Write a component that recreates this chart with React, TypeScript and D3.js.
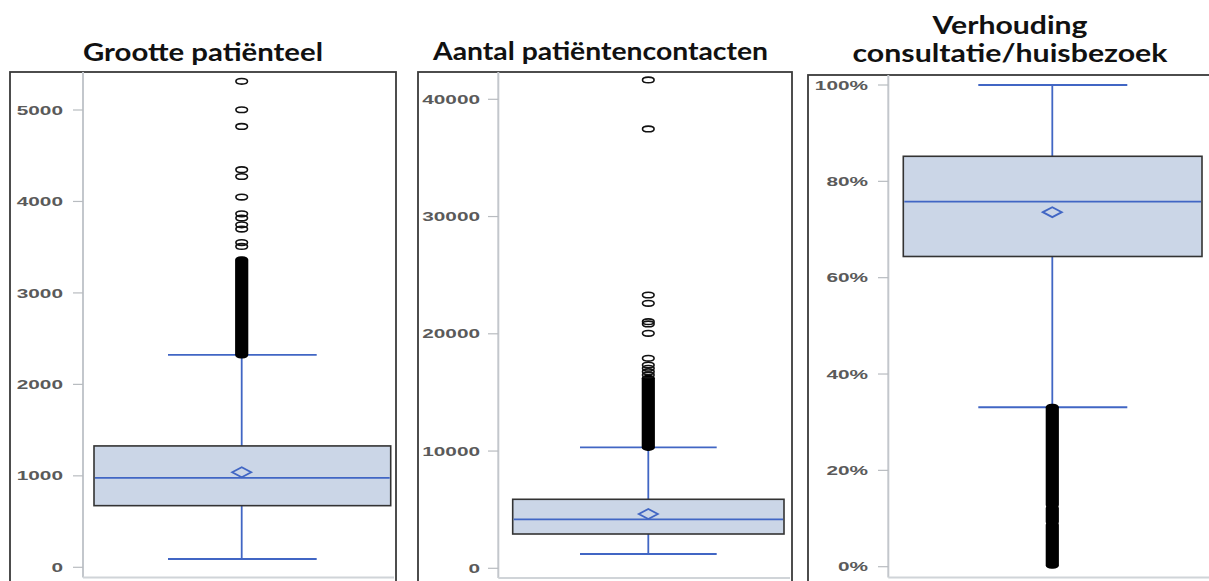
import React from "react";
import * as d3 from "d3";

// ---------- data ----------
const titles1 = ["Grootte patiënteel"];
const titles2 = ["Aantal patiëntencontacten"];
const titles3 = ["Verhouding", "consultatie/huisbezoek"];

const ticks1 = [0, 1000, 2000, 3000, 4000, 5000];
const ticks2 = [0, 10000, 20000, 30000, 40000];
const ticks3 = [0, 0.2, 0.4, 0.6, 0.8, 1.0];

// [min whisker, Q1, median, mean, Q3, max whisker]
const stats1 = [91, 674, 977, 1039, 1327, 2323];
const stats2 = [1220, 2925, 4180, 4630, 5885, 10320];
const stats3 = [0.331, 0.644, 0.758, 0.736, 0.852, 1.0];

// individual outliers
const outliers1 = [3508, 3551, 3698, 3745, 3818, 3865, 4048, 4273, 4347, 4820, 5003, 5314];
const outliers2 = [16490, 16770, 17060, 17340, 17910, 20040, 20840, 21030, 22600, 23310, 37470, 41650];
const outliers3: number[] = [];

// ranges where outlier markers overlap into a solid column
const dense1 = [[2323, 3362]];
const dense2 = [[10320, 16200]];
const dense3 = [[0.003, 0.087], [0.093, 0.122], [0.128, 0.331]];

// ---------- layout ----------
const panels = [
  {
    titles: titles1, titleX: 203, titleY: [61], titleW: [240],
    ticks: ticks1, fmt: (v: number) => String(v), stats: stats1, outliers: outliers1, dense: dense1,
    domain: [0, 5000], range: [567.3, 110],
    frame: [10, 72, 396, 640], axisX: 83, labelRight: 63, tickX0: 73,
    boxL: 94, boxR: 390.7, cx: 241.7, capL: 168, capR: 316.7, bottomY: 577.5,
  },
  {
    titles: titles2, titleX: 600.5, titleY: [60], titleW: [335],
    ticks: ticks2, fmt: (v: number) => String(v), stats: stats2, outliers: outliers2, dense: dense2,
    domain: [0, 40000], range: [568.3, 99.3],
    frame: [418, 72, 792, 640], axisX: 498.3, labelRight: 480, tickX0: 488,
    boxL: 512.7, boxR: 784, cx: 648.3, capL: 580, capR: 716.7, bottomY: 578,
  },
  {
    titles: titles3, titleX: 1010, titleY: [34, 62], titleW: [155, 315],
    ticks: ticks3, fmt: (v: number) => d3.format(".0%")(v), stats: stats3, outliers: outliers3, dense: dense3,
    domain: [0, 1], range: [566.7, 85],
    frame: [808, 75, 1230, 640], axisX: 888.3, labelRight: 868, tickX0: 878,
    boxL: 903.3, boxR: 1202, cx: 1052.3, capL: 978.3, capR: 1127.3, bottomY: 577.5,
  },
];

const BLUE = "#4166c4";
const BOXFILL = "#cbd6e7";

function Panel({ p }: { p: any }) {
  const y = d3.scaleLinear().domain(p.domain).range(p.range);
  const [mn, q1, med, mean, q3, mx] = p.stats;
  const [fx0, fy0, fx1, fy1] = p.frame;
  const rx = 5.8, ry = 2.8;
  return (
    <g>
      {p.titles.map((t: string, i: number) => (
        <text key={i} x={p.titleX} y={p.titleY[i]} textAnchor="middle"
          fontFamily="Lato, 'Open Sans', sans-serif" fontWeight="bold" fontSize={25} fill="#111"
          textLength={p.titleW[i]} lengthAdjust="spacingAndGlyphs">{t}</text>
      ))}
      <rect x={fx0} y={fy0} width={fx1 - fx0} height={fy1 - fy0} fill="#fff" stroke="#3a3a3a" strokeWidth={1.8} />
      {/* axes */}
      <line x1={p.axisX} x2={p.axisX} y1={fy0} y2={p.bottomY} stroke="#c3c7cc" strokeWidth={2} />
      <line x1={p.axisX} x2={fx1 - 2} y1={p.bottomY} y2={p.bottomY} stroke="#d0d4d8" strokeWidth={2} />
      {p.ticks.map((t: number) => (
        <g key={t}>
          <line x1={p.tickX0} x2={p.axisX} y1={y(t)} y2={y(t)} stroke="#b8bcc0" strokeWidth={1.2} />
          <g transform={`translate(${p.labelRight},${y(t) + 4.6}) scale(1.6,1)`}>
            <text x={0} y={0} textAnchor="end" fontFamily="'Liberation Sans', Arial, sans-serif"
              fontWeight="bold" fontSize={13} fill="#5a5a5a">{p.fmt(t)}</text>
          </g>
        </g>
      ))}
      {/* whiskers */}
      <line x1={p.cx} x2={p.cx} y1={y(q3)} y2={y(mx)} stroke={BLUE} strokeWidth={1.8} />
      <line x1={p.cx} x2={p.cx} y1={y(q1)} y2={y(mn)} stroke={BLUE} strokeWidth={1.8} />
      <line x1={p.capL} x2={p.capR} y1={y(mx)} y2={y(mx)} stroke={BLUE} strokeWidth={1.8} />
      <line x1={p.capL} x2={p.capR} y1={y(mn)} y2={y(mn)} stroke={BLUE} strokeWidth={1.8} />
      {/* box */}
      <rect x={p.boxL} y={y(q3)} width={p.boxR - p.boxL} height={y(q1) - y(q3)} fill={BOXFILL} stroke="#333" strokeWidth={1.6} />
      <line x1={p.boxL + 1} x2={p.boxR - 1} y1={y(med)} y2={y(med)} stroke={BLUE} strokeWidth={1.8} />
      <path d={`M${p.cx - 9.5},${y(mean)} L${p.cx},${y(mean) - 5} L${p.cx + 9.5},${y(mean)} L${p.cx},${y(mean) + 5} Z`}
        fill="none" stroke={BLUE} strokeWidth={1.8} />
      {/* dense outlier columns */}
      {p.dense.map((d: number[], i: number) => (
        <rect key={i} x={p.cx - rx - 0.8} width={2 * rx + 1.6} y={y(d[1]) - ry - 0.8}
          height={y(d[0]) - y(d[1]) + 2 * ry + 1.6} rx={rx} ry={ry + 0.8} fill="#000" />
      ))}
      {/* outliers */}
      {p.outliers.map((v: number, i: number) => (
        <ellipse key={i} cx={p.cx} cy={y(v)} rx={rx} ry={ry} fill="none" stroke="#111" strokeWidth={1.6} />
      ))}
    </g>
  );
}

export default function App() {
  return (
    <svg width={1209} height={581} style={{ position: "fixed", left: 0, top: 0, background: "#fff" }}>
      <rect x={0} y={0} width={1209} height={581} fill="#fff" />
      {panels.map((p, i) => <Panel key={i} p={p} />)}
    </svg>
  );
}
